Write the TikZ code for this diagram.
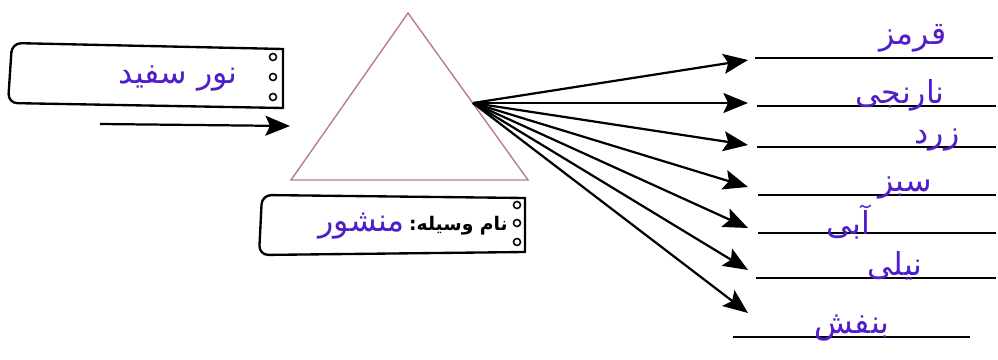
\documentclass[tikz,border=0pt]{standalone}
\usepackage{fontspec}
\usepackage{tikz}
\usetikzlibrary{arrows.meta,positioning}
\TeXXeTstate=1
\newfontfamily\arabicfont[Script=Arabic]{DejaVu Sans}
\newcommand{\rtltext}[1]{\beginR #1\endR}
\definecolor{pen}{RGB}{80,30,200}
\definecolor{prism}{RGB}{185,125,135}

\begin{document}
\begin{tikzpicture}[x=0.03cm,y=-0.03cm,
	ray/.style={-{Stealth[length=21pt,width=17pt,inset=4pt]},line width=1.9pt},
	tab/.style={line width=2pt},
	hole/.style={draw,circle,line width=1.3pt,inner sep=0pt,minimum size=6pt},
	hand/.style={text=pen,font=\arabicfont\fontsize{27}{30}\selectfont},
	rule/.style={line width=1.5pt}]

			\useasboundingbox (0,0) rectangle (998,359);

			% white light tab
			\draw[tab] (283,49) [rounded corners=8pt] -- (12,43) -- (8,103) [sharp corners] -- (283,108) -- cycle;
			\node[hole] (h1) at (273,57) {};
			\node[hole] (h2) at (273,77) {};
			\node[hole] (h3) at (273,97) {};
			\node[hand] (light) at (178,78) {\rtltext{نور سفید}};

			\coordinate (in0) at (100,124);
			\coordinate (in1) at (290,126);
			\draw[ray] (in0) -- (in1);

			% prism
			\coordinate (top) at (408,13);
			\coordinate (bl) at (291,180);
			\coordinate (br) at (528,180);
			\draw[prism,line width=1.2pt] (top) -- (bl) -- (br) -- cycle;

			% name tab
			\draw[tab] (525,198) [rounded corners=8pt] -- (262,195) -- (259,255) [sharp corners] -- (525,252) -- cycle;
			\node[hole] (h4) at (517,205) {};
			\node[hole] (h5) at (517,223) {};
			\node[hole] (h6) at (517,242) {};
			\node[font=\arabicfont\bfseries\fontsize{16}{19}\selectfont,anchor=east,inner sep=0pt] (toolname) at (508,226) {\rtltext{نام وسیله:}};
			\node[hand,anchor=east] (prismname) at (toolname.west) {\rtltext{منشور}};

			% spectrum
			\coordinate (src) at (473,103);
			\foreach \y [count=\i] in {60,103,145,187,228,270,313}
				\coordinate (tip\i) at (748,\y);
			\foreach \i in {1,...,7}
				\draw[ray] (src) -- (tip\i);

			\foreach \y/\xa/\xb in {58/755/993,106/757/996,147/757/996,195/758/996,233/758/996,278/756/996,337/733/970}
				\draw[rule] (\xa,\y) -- (\xb,\y);

			\node[hand] (c1) at (913,38) {\rtltext{قرمز}};
			\node[hand] (c2) at (900,95) {\rtltext{نارنجی}};
			\node[hand] (c3) at (937,140) {\rtltext{زرد}};
			\node[hand] (c4) at (905,188) {\rtltext{سبز}};
			\node[hand] (c5) at (848,222) {\rtltext{آبی}};
			\node[hand] (c6) at (895,266) {\rtltext{نیلی}};
			\node[hand] (c7) at (852,328) {\rtltext{بنفش}};

		\end{tikzpicture}
\end{document}
